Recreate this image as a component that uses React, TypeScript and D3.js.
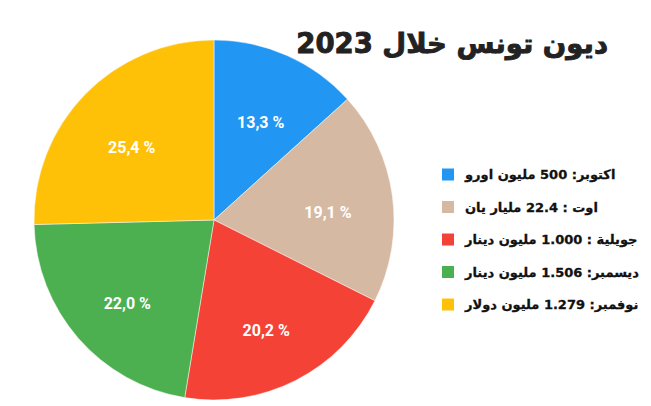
import React from "react";
import * as d3 from "d3";

const categories = ["اكتوبر", "اوت", "جويلية", "ديسمبر", "نوفمبر"];
const shares = [13.3, 19.1, 20.2, 22.0, 25.4];
const shareLabels = ["13,3 %", "19,1 %", "20,2 %", "22,0 %", "25,4 %"];
const legendLabels = [
  "اكتوبر: 500 مليون اورو",
  "اوت : 22.4 مليار يان",
  "جويلية : 1.000 مليون دينار",
  "ديسمبر: 1.506 مليون دينار",
  "نوفمبر: 1.279 مليون دولار",
];
const colors = ["#2196F3", "#D6B9A3", "#F44336", "#4CAF50", "#FFC107"];
const title = "ديون تونس خلال 2023";

const W = 651;
const H = 406;
const cx = 214;
const cy = 220;
const R = 180;
const labelR = 115;
const labelShift = 8;

export default function App() {
  const pie = d3.pie<number>().sort(null).value((d) => d);
  const arcs = pie(shares);
  const arc = d3.arc<d3.PieArcDatum<number>>().innerRadius(0).outerRadius(R);
  const labelArc = d3
    .arc<d3.PieArcDatum<number>>()
    .innerRadius(labelR)
    .outerRadius(labelR);

  const legendY = d3
    .scalePoint<string>()
    .domain(categories)
    .range([174.5, 304.5]);

  return (
    <svg
      width={W}
      height={H}
      style={{ position: "absolute", left: 0, top: 0, background: "#fff" }}
    >
      <rect x={0} y={0} width={W} height={H} fill="#fff" />
      <g transform={`translate(${cx},${cy})`}>
        {arcs.map((a, i) => (
          <path
            key={i}
            d={arc(a) || ""}
            fill={colors[i]}
            stroke="#fff"
            strokeWidth={0.8}
            strokeOpacity={0.6}
          />
        ))}
        {arcs.map((a, i) => {
          const [x, y] = labelArc.centroid(a);
          return (
            <text
              key={"l" + i}
              x={x}
              y={y + labelShift}
              textAnchor="middle"
              dominantBaseline="central"
              fill="#fff"
              fontFamily="Roboto, 'DejaVu Sans', sans-serif"
              fontWeight={700}
              fontSize={16}
            >
              {shareLabels[i]}
            </text>
          );
        })}
      </g>
      <text
        x={608}
        y={53}
        direction="rtl"
        textAnchor="start"
        fill="#222"
        stroke="#222"
        strokeWidth={0.9}
        fontFamily="'DejaVu Sans', sans-serif"
        fontWeight={700}
        fontSize={27.5}
      >
        {title}
      </text>
      {categories.map((c, i) => {
        const y = legendY(c) as number;
        return (
          <g key={"lg" + i}>
            <rect x={442} y={y - 6} width={12} height={12} fill={colors[i]} />
            <text
              x={465}
              y={y}
              direction="rtl"
              textAnchor="end"
              dominantBaseline="central"
              fill="#111"
              stroke="#111"
              strokeWidth={0.3}
              fontFamily="'DejaVu Sans', sans-serif"
              fontWeight={700}
              fontSize={13}
            >
              {legendLabels[i]}
            </text>
          </g>
        );
      })}
    </svg>
  );
}
